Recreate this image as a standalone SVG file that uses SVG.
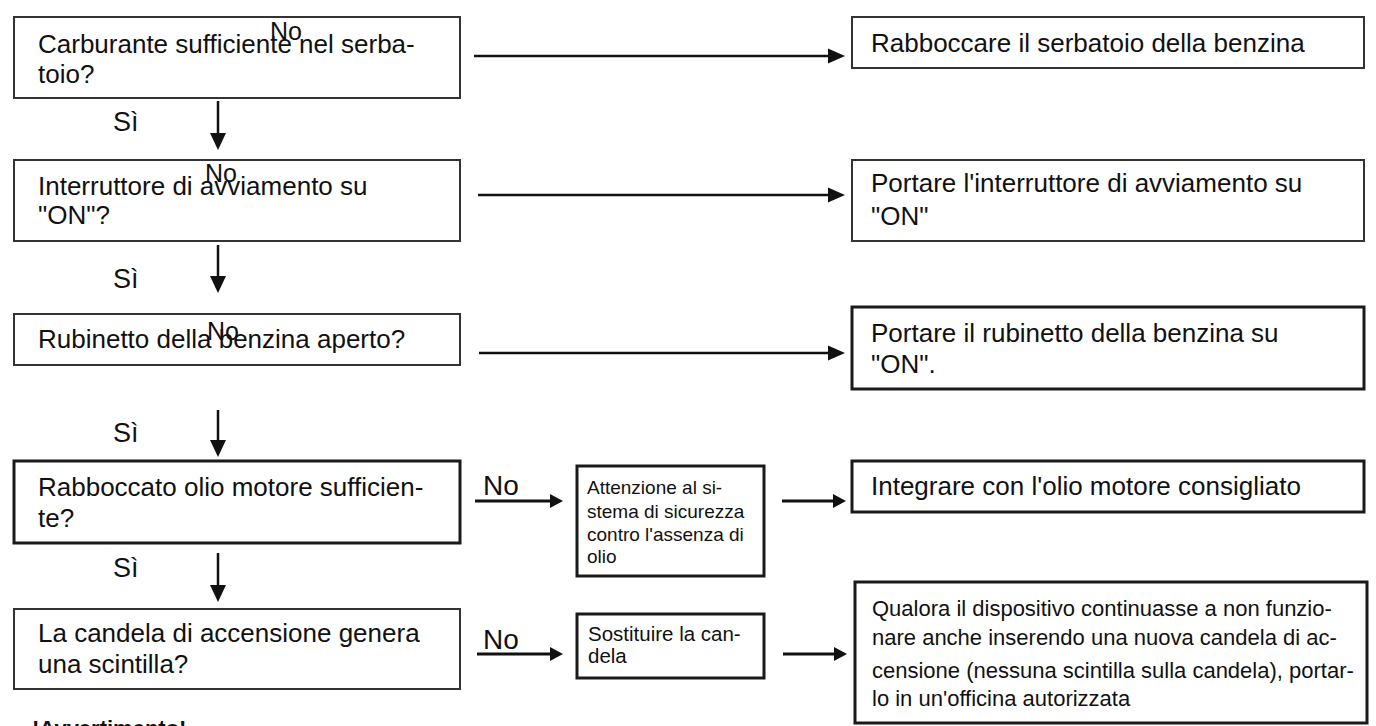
<svg xmlns="http://www.w3.org/2000/svg" width="1376" height="726" viewBox="0 0 1376 726">
<style>
.box{fill:#fff;stroke:#333;stroke-width:2}
.boxb{fill:#fff;stroke:#1a1a1a;stroke-width:3}
text{font-family:"Liberation Sans",Arial,sans-serif;fill:#111}
.t26{font-size:26px}
.t22{font-size:22px}
.t19{font-size:19px}
.t20{font-size:20.5px}
.no{font-size:25px}
.no2{font-size:28px}
.si{font-size:27px}
.warn{font-size:22px;font-weight:bold}
.ln{stroke:#111;stroke-width:2.5;fill:none}
.ln3{stroke:#111;stroke-width:3;fill:none}
</style>
<defs>
<marker id="ah" markerUnits="userSpaceOnUse" markerWidth="17" markerHeight="16" refX="9" refY="8" orient="auto"><path d="M0,0.5 L17,8 L0,15.5 z" fill="#111"/></marker>
<marker id="ad" markerUnits="userSpaceOnUse" markerWidth="17" markerHeight="16" refX="9" refY="8" orient="auto"><path d="M0,0 L17,8 L0,16 z" fill="#111"/></marker>
<marker id="as" markerUnits="userSpaceOnUse" markerWidth="13" markerHeight="14" refX="6" refY="7" orient="auto"><path d="M0,0 L13,7 L0,14 z" fill="#111"/></marker>
</defs>

<g id="q1"><rect class="box" x="14" y="17" width="446" height="81"/><text class="t26" x="38" y="53">Carburante sufficiente nel serba-</text><text class="t26" x="38" y="83">toio?</text></g>
<g id="q2"><rect class="box" x="14" y="160" width="446" height="81"/><text class="t26" x="38" y="195">Interruttore di avviamento su</text><text class="t26" x="38" y="224">"ON"?</text></g>
<g id="q3"><rect class="box" x="14" y="314" width="446" height="51"/><text class="t26" x="38" y="348">Rubinetto della benzina aperto?</text></g>
<g id="q4"><rect class="boxb" x="14" y="461" width="446" height="82"/><text class="t26" x="38" y="496">Rabboccato olio motore sufficien-</text><text class="t26" x="38" y="527">te?</text></g>
<g id="q5"><rect class="box" x="14" y="609" width="446" height="80"/><text class="t26" x="38" y="642">La candela di accensione genera</text><text class="t26" x="38" y="673">una scintilla?</text></g>

<g id="r1"><rect class="box" x="852" y="17" width="512" height="51"/><text class="t26" x="871" y="52">Rabboccare il serbatoio della benzina</text></g>
<g id="r2"><rect class="box" x="852" y="160" width="512" height="81"/><text class="t26" x="871" y="192">Portare l'interruttore di avviamento su</text><text class="t26" x="871" y="225">"ON"</text></g>
<g id="r3"><rect class="boxb" x="852" y="307" width="512" height="82"/><text class="t26" x="871" y="342">Portare il rubinetto della benzina su</text><text class="t26" x="871" y="373">"ON".</text></g>
<g id="r4"><rect class="boxb" x="852" y="461" width="512" height="51"/><text class="t26" x="871" y="495">Integrare con l'olio motore consigliato</text></g>
<g id="m4"><rect class="boxb" x="577" y="466" width="187" height="110"/><text class="t19" x="587" y="494">Attenzione al si-</text><text class="t19" x="587" y="518">stema di sicurezza</text><text class="t19" x="587" y="541">contro l'assenza di</text><text class="t19" x="587" y="563">olio</text></g>
<g id="m5"><rect class="boxb" x="577" y="614" width="187" height="64"/><text class="t20" x="588" y="641">Sostituire la can-</text><text class="t20" x="588" y="663">dela</text></g>
<g id="r5"><rect class="boxb" x="855" y="582" width="512" height="141"/><text class="t22" x="872" y="616">Qualora il dispositivo continuasse a non funzio-</text><text class="t22" x="872" y="645">nare anche inserendo una nuova candela di ac-</text><text class="t22" x="872" y="678">censione (nessuna scintilla sulla candela), portar-</text><text class="t22" x="872" y="706">lo in un'officina autorizzata</text></g>

<g id="connectors">
<line class="ln" x1="474" y1="56" x2="837" y2="56" marker-end="url(#ah)"/>
<line class="ln" x1="478" y1="195" x2="837" y2="195" marker-end="url(#ah)"/>
<line class="ln" x1="479" y1="353" x2="837" y2="353" marker-end="url(#ah)"/>
<line class="ln" x1="218" y1="101" x2="218" y2="142" marker-end="url(#ad)"/>
<line class="ln" x1="218" y1="245" x2="218" y2="285" marker-end="url(#ad)"/>
<line class="ln" x1="218" y1="410" x2="218" y2="449" marker-end="url(#ad)"/>
<line class="ln" x1="218" y1="553" x2="218" y2="594" marker-end="url(#ad)"/>
<line class="ln3" x1="475" y1="501" x2="556" y2="501" marker-end="url(#as)"/>
<line class="ln3" x1="782" y1="501" x2="839" y2="501" marker-end="url(#as)"/>
<line class="ln3" x1="477" y1="654" x2="556" y2="654" marker-end="url(#as)"/>
<line class="ln3" x1="783" y1="654" x2="840" y2="654" marker-end="url(#as)"/>
</g>

<g id="labels">
<text class="no" x="270" y="40">No</text>
<text class="no" x="205" y="182">No</text>
<text class="no" x="207" y="340">No</text>
<text class="no2" x="483" y="495">No</text>
<text class="no2" x="483" y="649">No</text>
<text class="si" x="113" y="131">Sì</text>
<text class="si" x="113" y="288">Sì</text>
<text class="si" x="113" y="442">Sì</text>
<text class="si" x="113" y="577">Sì</text>
<text class="warn" x="32" y="736">!Avvertimento!</text>
</g>
</svg>
